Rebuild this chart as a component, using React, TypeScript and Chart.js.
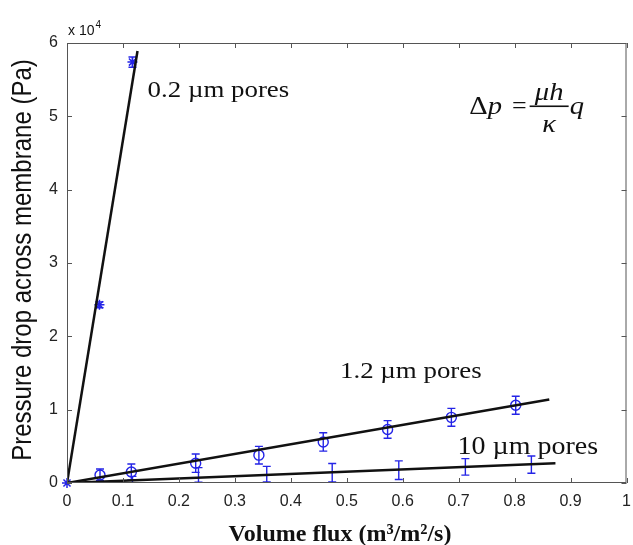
import React, { useEffect, useRef } from "react";
import { Chart, registerables } from "chart.js";

Chart.register(...registerables);

// ---- data ----
const xTicks = [0, 0.1, 0.2, 0.3, 0.4, 0.5, 0.6, 0.7, 0.8, 0.9, 1];
const xTickLabels = ["0", "0.1", "0.2", "0.3", "0.4", "0.5", "0.6", "0.7", "0.8", "0.9", "1"];
const yTicks = [0, 10000, 20000, 30000, 40000, 50000, 60000];
const yTickLabels = ["0", "1", "2", "3", "4", "5", "6"];

// 0.2 um pores (stars)
const flux02 = [0, 0.058, 0.117];
const dp02 = [0, 24300, 57400];
const err02 = [0, 400, 700];

// 1.2 um pores (circles)
const flux12 = [0.059, 0.115, 0.23, 0.343, 0.458, 0.573, 0.687, 0.802];
const dp12 = [1100, 1500, 2700, 3800, 5600, 7300, 8950, 10600];
const err12 = [800, 1100, 1250, 1200, 1250, 1200, 1220, 1220];

// 10 um pores (error bars only)
const flux10 = [0.117, 0.235, 0.357, 0.474, 0.593, 0.712, 0.83];
const dp10 = [400, 1100, 1200, 1400, 1750, 2200, 2500];
const err10 = [500, 1000, 1070, 1250, 1270, 1130, 1180];

// fitted lines (start, end)
const fitFlux02 = [0, 0.126];
const fitDp02 = [0, 58900];
const fitFlux12 = [0, 0.862];
const fitDp12 = [0, 11400];
const fitFlux10 = [0, 0.873];
const fitDp10 = [0, 2700];

// annotation anchors in data units
const label02 = { text: "0.2 \u00b5m pores", x: 0.144, y: 52600, size: 24 };
const label12 = { text: "1.2 \u00b5m pores", x: 0.488, y: 14300, size: 24 };
const label10 = { text: "10 \u00b5m pores", x: 0.698, y: 3950, size: 25 };
const formulaAnchor = { x: 0.719, y: 50800 };

const BLUE = "#2424e6";

const pts = (xs: number[], ys: number[]) => xs.map((x, i) => ({ x, y: ys[i] }));

function stretchedText(
  ctx: CanvasRenderingContext2D,
  str: string,
  x: number,
  y: number,
  font: string,
  sx: number,
  align: "left" | "center" = "left"
) {
  ctx.save();
  ctx.font = font;
  ctx.textBaseline = "alphabetic";
  const w = ctx.measureText(str).width * sx;
  const left = align === "center" ? x - w / 2 : x;
  ctx.translate(left, y);
  ctx.scale(sx, 1);
  ctx.textAlign = "left";
  ctx.fillText(str, 0, 0);
  ctx.restore();
  return w;
}

const errorBarPlugin = {
  id: "errorBars",
  beforeDatasetsDraw(chart: any) {
    const ctx = chart.ctx as CanvasRenderingContext2D;
    const ys = chart.scales.y;
    const area = chart.chartArea;
    ctx.save();
    ctx.beginPath();
    ctx.rect(area.left, area.top, area.right - area.left, area.bottom - area.top);
    ctx.clip();
    chart.data.datasets.forEach((ds: any, i: number) => {
      if (!ds.errors) return;
      const meta = chart.getDatasetMeta(i);
      ctx.strokeStyle = BLUE;
      ctx.lineWidth = 1.4;
      const cap = 4;
      meta.data.forEach((pt: any, j: number) => {
        const e = ds.errors[j];
        if (!e) return;
        const v = ds.data[j].y;
        const top = ys.getPixelForValue(v + e);
        const bot = ys.getPixelForValue(v - e);
        const px = pt.x;
        ctx.beginPath();
        ctx.moveTo(px, top);
        ctx.lineTo(px, bot);
        ctx.moveTo(px - cap, top);
        ctx.lineTo(px + cap, top);
        ctx.moveTo(px - cap, bot);
        ctx.lineTo(px + cap, bot);
        ctx.stroke();
      });
    });
    ctx.restore();
  },
};

const decorPlugin = {
  id: "decor",
  afterDraw(chart: any) {
    const ctx = chart.ctx as CanvasRenderingContext2D;
    const a = chart.chartArea;
    const xs = chart.scales.x;
    const ys = chart.scales.y;
    ctx.save();
    // frame
    ctx.strokeStyle = "#555";
    ctx.lineWidth = 1;
    ctx.strokeRect(a.left + 0.5, a.top + 0.5, a.right - a.left - 1, a.bottom - a.top - 1);
    // inward ticks
    const tl = 5;
    ctx.beginPath();
    xTicks.forEach((v) => {
      const px = Math.round(xs.getPixelForValue(v)) + 0.5;
      ctx.moveTo(px, a.bottom);
      ctx.lineTo(px, a.bottom - tl);
      ctx.moveTo(px, a.top);
      ctx.lineTo(px, a.top + tl);
    });
    yTicks.forEach((v) => {
      const py = Math.round(ys.getPixelForValue(v)) + 0.5;
      ctx.moveTo(a.left, py);
      ctx.lineTo(a.left + tl, py);
      ctx.moveTo(a.right, py);
      ctx.lineTo(a.right - tl, py);
    });
    ctx.stroke();

    ctx.fillStyle = "#111";
    // exponent label
    ctx.font = "14px 'Liberation Sans', Arial, sans-serif";
    ctx.textAlign = "left";
    ctx.textBaseline = "alphabetic";
    ctx.fillText("x 10", a.left + 1, a.top - 8);
    const w10 = ctx.measureText("x 10").width;
    ctx.font = "10px 'Liberation Sans', Arial, sans-serif";
    ctx.fillText("4", a.left + 2 + w10, a.top - 15);

    // x title
    const titleX = xs.getPixelForValue(0.488);
    stretchedText(
      ctx,
      "Volume flux (m\u00b3/m\u00b2/s)",
      titleX,
      chart.height - 4,
      "bold 24px 'Liberation Serif', 'Times New Roman', serif",
      1,
      "center"
    );

    // y title
    ctx.save();
    ctx.translate(31, (a.top + a.bottom) / 2 - 3);
    ctx.rotate(-Math.PI / 2);
    ctx.scale(1, 1.13);
    ctx.font = "24px 'Liberation Sans', Arial, sans-serif";
    ctx.textAlign = "center";
    ctx.textBaseline = "alphabetic";
    ctx.fillText("Pressure drop across membrane (Pa)", 0, 0);
    ctx.restore();

    // annotations
    [label02, label12, label10].forEach((l) => {
      stretchedText(
        ctx,
        l.text,
        xs.getPixelForValue(l.x),
        ys.getPixelForValue(l.y),
        `${l.size}px 'Liberation Serif', 'Times New Roman', serif`,
        1.12
      );
    });

    // formula
    const fx = xs.getPixelForValue(formulaAnchor.x);
    const fy = ys.getPixelForValue(formulaAnchor.y) + 4; // baseline
    const up = "26px 'Liberation Serif', 'Times New Roman', serif";
    const it = "italic 26px 'Liberation Serif', 'Times New Roman', serif";
    let cx = fx;
    cx += stretchedText(ctx, "\u0394", cx, fy, up, 1.1);
    cx += stretchedText(ctx, "p", cx, fy, it, 1.1);
    cx += 10;
    cx += stretchedText(ctx, "=", cx, fy, up, 1.0);
    cx += 3;
    const barW = 39;
    const barY = fy - 9;
    ctx.fillRect(cx, barY, barW, 1.6);
    stretchedText(ctx, "\u03bch", cx + barW / 2, barY - 5, it, 1.1, "center");
    stretchedText(ctx, "\u03ba", cx + barW / 2, barY + 27, it, 1.1, "center");
    cx += barW + 1;
    stretchedText(ctx, "q", cx, fy, it, 1.1);
    ctx.restore();
  },
};

export default function App() {
  const ref = useRef<HTMLCanvasElement | null>(null);
  useEffect(() => {
    document.body.style.margin = "0";
    const canvas = ref.current;
    if (!canvas) return;
    const tickFont = { family: "'Liberation Sans', Arial, sans-serif", size: 16 };
    const chart = new Chart(canvas, {
      type: "scatter",
      data: {
        datasets: [
          {
            label: "fit 0.2",
            data: pts(fitFlux02, fitDp02),
            showLine: true,
            borderColor: "#111",
            borderWidth: 2.5,
            pointRadius: 0,
            order: 0,
          },
          {
            label: "fit 1.2",
            data: pts(fitFlux12, fitDp12),
            showLine: true,
            borderColor: "#111",
            borderWidth: 2.5,
            pointRadius: 0,
            order: 0,
          },
          {
            label: "fit 10",
            data: pts(fitFlux10, fitDp10),
            showLine: true,
            borderColor: "#111",
            borderWidth: 2.5,
            pointRadius: 0,
            order: 0,
          },
          {
            label: "0.2 um",
            data: pts(flux02, dp02),
            errors: err02,
            pointStyle: "star",
            pointRadius: 5,
            borderColor: BLUE,
            backgroundColor: BLUE,
            borderWidth: 1.5,
            clip: 8,
            order: 1,
          } as any,
          {
            label: "1.2 um",
            data: pts(flux12, dp12),
            errors: err12,
            pointStyle: "circle",
            pointRadius: 5,
            borderColor: BLUE,
            backgroundColor: "rgba(0,0,0,0)",
            borderWidth: 1.4,
            order: 1,
          } as any,
          {
            label: "10 um",
            data: pts(flux10, dp10),
            errors: err10,
            pointRadius: 0,
            borderColor: BLUE,
            order: 1,
          } as any,
        ],
      },
      options: {
        animation: false,
        responsive: false,
        events: [],
        layout: { padding: { top: 43, right: 3, left: 0, bottom: 0 } },
        plugins: { legend: { display: false }, tooltip: { enabled: false } },
        scales: {
          x: {
            type: "linear",
            min: 0,
            max: 1,
            afterBuildTicks: (s: any) => {
              s.ticks = xTicks.map((v) => ({ value: v }));
            },
            afterFit: (s: any) => {
              s.height = 62;
              s.paddingLeft = 0;
              s.paddingRight = 0;
            },
            ticks: {
              callback: (_v: any, i: number) => xTickLabels[i],
              font: tickFont,
              color: "#222",
              padding: 9,
              maxRotation: 0,
              autoSkip: false,
            },
            grid: { display: false, drawTicks: false },
            border: { display: false },
          },
          y: {
            type: "linear",
            min: 0,
            max: 60000,
            afterBuildTicks: (s: any) => {
              s.ticks = yTicks.map((v) => ({ value: v }));
            },
            afterFit: (s: any) => {
              s.width = 67;
              s.paddingTop = 0;
              s.paddingBottom = 0;
            },
            ticks: {
              callback: (_v: any, i: number) => yTickLabels[i],
              font: tickFont,
              color: "#222",
              padding: 9,
              autoSkip: false,
            },
            grid: { display: false, drawTicks: false },
            border: { display: false },
          },
        },
      } as any,
      plugins: [errorBarPlugin, decorPlugin],
    });
    return () => chart.destroy();
  }, []);
  return (
    <div style={{ width: 633, height: 545, background: "#fff" }}>
      <canvas ref={ref} width={633} height={545} style={{ display: "block" }} />
    </div>
  );
}
